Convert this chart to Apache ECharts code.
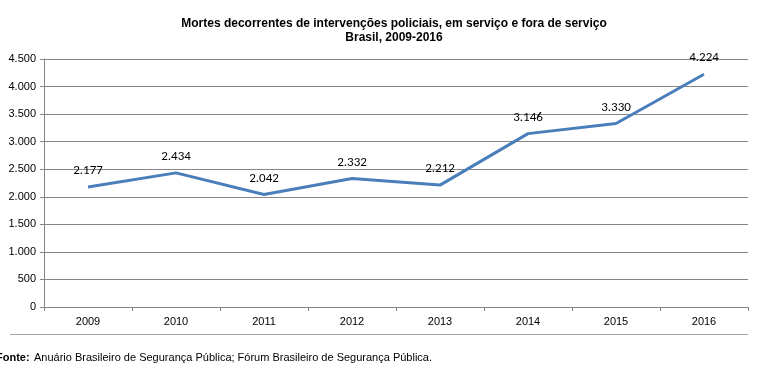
<!DOCTYPE html>
<html><head><meta charset="utf-8">
<script src="https://cdn.jsdelivr.net/npm/echarts@6/dist/echarts.min.js"></script>
<style>html,body{margin:0;padding:0;background:#fff}#c{width:766px;height:368px}</style>
</head><body><div id="c"></div>
<script>
const categories = ['2009','2010','2011','2012','2013','2014','2015','2016'];
const values = [2177, 2434, 2042, 2332, 2212, 3146, 3330, 4224];
const titleLines = ['Mortes decorrentes de intervenções policiais, em serviço e fora de serviço', 'Brasil, 2009-2016'];
const sourceText = 'Anuário Brasileiro de Segurança Pública; Fórum Brasileiro de Segurança Pública.';

function fmt(v){ return String(v).replace(/\B(?=(\d{3})+(?!\d))/g, '.'); }

const chart = echarts.init(document.getElementById('c'), null, {renderer:'canvas'});
chart.setOption({
  animation:false,
  backgroundColor:'#fff',
  title:{
    text: titleLines.join('\n'), left: 389, top: 12, textAlign:'center',
    textStyle:{fontFamily:'Liberation Sans', fontWeight:'bold', fontSize:12, color:'#000', lineHeight:14}
  },
  grid:{left:44, right:18, top:59, bottom:61, containLabel:false},
  xAxis:{
    type:'category', data:categories, boundaryGap:true,
    axisLine:{show:true, lineStyle:{color:'#868686', width:1}},
    axisTick:{show:true, alignWithLabel:false, length:4, lineStyle:{color:'#868686'}},
    axisLabel:{color:'#000', fontFamily:'Liberation Sans', fontSize:11, margin:9}
  },
  yAxis:{
    type:'value', min:0, max:4500, interval:500,
    axisLine:{show:true, lineStyle:{color:'#868686'}},
    axisTick:{show:true, length:4, lineStyle:{color:'#868686'}},
    splitLine:{lineStyle:{color:'#868686', width:1}},
    axisLabel:{color:'#000', fontFamily:'Liberation Sans', fontSize:11, margin:8, formatter:fmt}
  },
  series:[{
    type:'line', data:values, symbol:'circle', symbolSize:1, showSymbol:true,
    itemStyle:{color:'rgba(74,126,187,0)'},
    lineStyle:{color:'#4a7ebb', width:3},
    label:{show:true, position:'top', distance:9, color:'#000', fontFamily:'Carlito', fontSize:13,
      formatter:function(p){ return fmt(p.value); }}
  }],
  graphic:[
    {type:'line', shape:{x1:10, y1:334.5, x2:748, y2:334.5}, style:{stroke:'#a6a6a6', lineWidth:1}},
    {type:'text', left:-4, top:352, style:{text:'Fonte:', font:'bold 11px Liberation Sans', fill:'#000'}},
    {type:'text', left:34, top:352, style:{text:sourceText, font:'11px Liberation Sans', fill:'#000'}}
  ]
});
</script></body></html>
